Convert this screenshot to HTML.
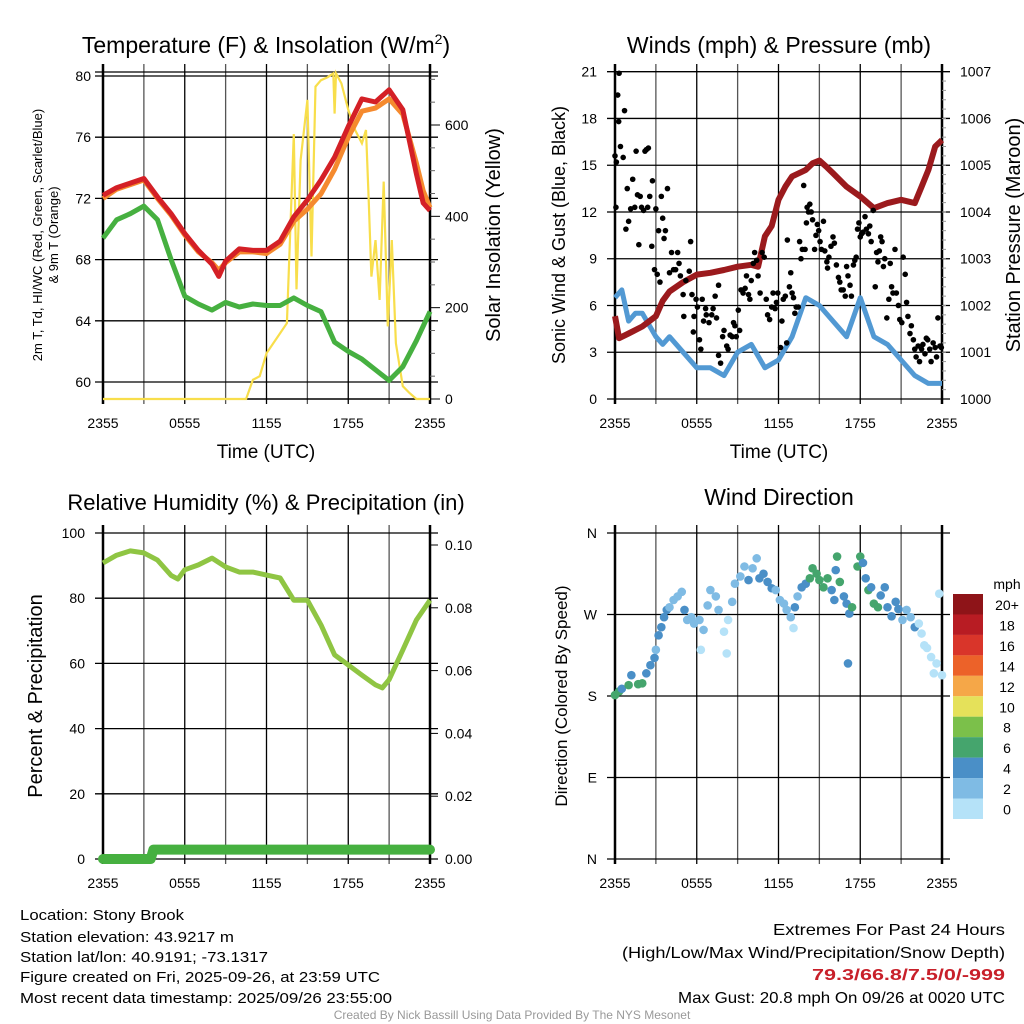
<!DOCTYPE html>
<html><head><meta charset="utf-8"><style>
html,body{margin:0;padding:0;background:#fff;}
svg{display:block;font-family:"Liberation Sans",sans-serif;}
</style></head><body>
<svg id="fig" width="1024" height="1024" viewBox="0 0 1024 1024" xmlns="http://www.w3.org/2000/svg">
<g id="tl"></g>
<g id="tr"></g>
<g id="bl"></g>
<g id="br"></g>
<g font-size="15" fill="#000">
<text x="20" y="920" textLength="164" lengthAdjust="spacingAndGlyphs">Location: Stony Brook</text>
<text x="20" y="942" textLength="214" lengthAdjust="spacingAndGlyphs">Station elevation: 43.9217 m</text>
<text x="20" y="962" textLength="248" lengthAdjust="spacingAndGlyphs">Station lat/lon: 40.9191; -73.1317</text>
<text x="20" y="982" textLength="360" lengthAdjust="spacingAndGlyphs">Figure created on Fri, 2025-09-26, at 23:59 UTC</text>
<text x="20" y="1003" textLength="372" lengthAdjust="spacingAndGlyphs">Most recent data timestamp: 2025/09/26 23:55:00</text>
<text x="1005" y="935" text-anchor="end" font-size="16" textLength="232" lengthAdjust="spacingAndGlyphs">Extremes For Past 24 Hours</text>
<text x="1005" y="958" text-anchor="end" font-size="16" textLength="383" lengthAdjust="spacingAndGlyphs">(High/Low/Max Wind/Precipitation/Snow Depth)</text>
<text x="1005" y="980" text-anchor="end" font-size="16" font-weight="bold" fill="#c8202a" textLength="193" lengthAdjust="spacingAndGlyphs">79.3/66.8/7.5/0/-999</text>
<text x="1005" y="1003" text-anchor="end" font-size="16" textLength="327" lengthAdjust="spacingAndGlyphs">Max Gust: 20.8 mph On 09/26 at 0020 UTC</text>
<text x="512" y="1019" text-anchor="middle" font-size="12" fill="#999">Created By Nick Bassill Using Data Provided By The NYS Mesonet</text>
</g>
</svg>
<script>
// ---- data ----
const xTickLabels = ["2355","0555","1155","1755","2355"];
const tempHours = [0,1,2,3,4,5,6,7,8,8.5,9,10,11,12,13,14,15,16,17,18,19,20,21,22,23,23.5,24];
const tempRed = [72.2,72.7,73.0,73.3,72.1,71.0,69.7,68.6,67.7,66.9,67.9,68.7,68.6,68.6,69.2,70.8,71.9,73.2,74.7,76.7,78.5,78.3,79.1,77.8,73.6,71.7,71.2];
const tempOrange = [72.0,72.6,72.9,73.2,72.0,70.9,69.6,68.5,67.8,67.3,67.8,68.5,68.5,68.4,69.0,70.5,71.3,72.3,73.9,76.0,77.7,77.9,78.5,77.5,74.3,72.5,71.4];
const dewHours = [0,1,2,3,4,5,6,7,8,9,10,11,12,13,14,15,16,17,18,19,20,21,22,23,24];
const dewGreen = [69.4,70.6,71.0,71.5,70.6,68.0,65.6,65.1,64.7,65.2,64.9,65.1,65.0,65.0,65.5,65.0,64.6,62.6,62.0,61.5,60.8,60.1,61.0,62.7,64.6];
const solarHours = [0,10.5,11,11.5,12,12.5,13,13.5,14,14.2,14.5,15,15.3,15.6,16,16.5,16.9,17,17.1,17.5,18,18.5,19,19.3,19.5,19.7,20,20.3,20.6,20.9,21.2,21.5,22,22.5,23,24];
const solarVals = [0,0,42,50,100,122,144,166,580,240,523,655,312,684,698,705,713,625,713,691,633,589,560,589,436,268,348,217,476,159,348,122,28,13,0,0];
const windHours = [0,0.5,1,1.5,2,3,3.5,4,5,6,7,8,9,10,11,12,13,14,15,16,17,18,19,20,21,22,23,24];
const windVals = [6.5,7,5,5.5,5.5,4,3.5,4,3,2,2,1.5,3,3.5,2,2.5,4,6.5,6,5,4,6.5,4,3.5,2.5,1.5,1,1];
const presHours = [0,0.3,1,2,3,3.5,4,5,6,7,8,9,10,10.5,11,11.5,12,12.5,13,14,14.5,15,15.5,16,17,18,19,20,21,22,22.5,23,23.5,24];
const presVals = [1001.77,1001.3,1001.4,1001.55,1001.77,1002.1,1002.3,1002.5,1002.66,1002.7,1002.76,1002.83,1002.87,1002.83,1003.48,1003.7,1004.26,1004.54,1004.76,1004.9,1005.04,1005.1,1004.97,1004.83,1004.54,1004.33,1004.08,1004.19,1004.26,1004.19,1004.54,1004.9,1005.4,1005.54];
const gustHours = [0,0.07,0.1,0.2,0.3,0.27,0.4,0.6,0.7,0.8,0.9,1.0,1.15,1.3,1.45,1.55,1.65,1.75,1.85,1.95,2.1,2.2,2.3,2.4,2.45,2.55,2.7,2.75,2.9,3.0,3.1,3.2,3.3,3.4,3.5,3.6,3.7,3.85,4.0,4.15,4.3,4.45,4.6,4.7,4.8,5.0,5.05,5.2,5.45,5.55,5.65,5.75,5.8,5.95,6.05,6.2,6.3,6.4,6.5,6.65,6.7,6.9,7.1,7.2,7.35,7.45,7.6,7.6,7.75,7.9,8.0,8.2,8.3,8.45,8.6,8.7,8.8,8.9,9.05,9.15,9.25,9.4,9.55,9.65,9.8,9.9,10.0,10.15,10.25,10.4,10.5,10.65,10.8,10.95,11.1,11.2,11.35,11.5,11.6,11.75,11.85,11.95,12.15,12.25,12.35,12.5,12.6,12.65,12.8,12.9,13.0,13.1,13.2,13.3,13.45,13.55,13.65,13.75,13.85,13.95,14.05,14.1,14.2,14.3,14.4,14.5,14.65,14.75,14.85,14.95,15.05,15.15,15.3,15.4,15.55,15.6,15.7,15.85,16.0,16.1,16.25,16.4,16.5,16.6,16.75,16.9,17.0,17.1,17.25,17.35,17.5,17.6,17.7,17.8,17.9,18.0,18.1,18.2,18.35,18.45,18.6,18.7,18.8,18.95,19.1,19.2,19.3,19.4,19.5,19.6,19.7,19.8,19.95,20.1,20.2,20.3,20.4,20.55,20.65,20.8,20.9,21.05,21.15,21.3,21.4,21.5,21.65,21.75,21.9,22.0,22.1,22.25,22.35,22.5,22.6,22.75,22.85,22.95,23.1,23.2,23.35,23.5,23.6,23.7,23.85,23.95];
const gustVals = [15.6,12.3,15.2,19.5,20.9,17.8,16.2,15.5,18.5,10.9,13.5,11.4,12.2,14.1,12.3,15.9,13.1,9.9,13.0,12.3,12.1,15.9,16.0,12.3,16.1,13.0,9.8,14.0,8.3,12.2,8.0,10.8,7.5,13.0,11.6,10.3,10.8,13.5,8.1,9.4,8.3,8.3,9.4,8.7,7.9,6.7,5.3,7.6,8.2,10.1,6.7,4.3,5.3,6.4,5.9,3.8,3.2,6.4,5.0,5.8,5.4,4.9,5.4,5.8,6.6,5.2,7.3,2.8,2.3,4.0,4.4,3.4,3.2,4.1,4.0,4.9,4.7,4.0,5.7,4.4,7.0,6.8,7.1,7.9,6.7,6.4,7.6,8.7,9.4,8.9,7.9,6.8,9.4,9.1,6.4,5.4,5.1,5.9,6.8,5.8,6.2,6.8,3.3,5.0,6.4,6.6,3.6,10.2,7.2,8.1,6.8,6.5,5.5,5.9,5.9,10.1,9.0,9.6,13.7,9.6,11.3,12.3,12.0,12.5,12.0,11.5,9.6,10.5,11.2,10.8,10.1,9.6,11.4,9.5,8.8,8.4,9.1,9.8,10.4,10.0,8.6,7.8,7.5,7.0,7.0,6.6,8.5,7.9,7.3,6.6,8.6,8.9,9.1,10.9,11.3,10.4,10.6,10.7,11.7,10.9,10.6,11.1,10.1,12.1,7.2,9.4,8.8,9.5,10.4,10.1,8.5,9.0,5.2,6.4,8.7,7.2,6.8,9.6,6.8,6.0,5.1,4.9,9.1,8.0,6.2,5.3,4.2,4.7,3.8,3.2,2.7,3.4,2.4,3.2,3.5,2.9,3.9,3.8,3.2,2.4,3.6,3.3,2.7,5.2,3.4,3.3];
const rhHours = [0,1,2,3,4,5,5.5,6,7,8,9,10,11,12,13,14,15,16,17,18,19,20,20.5,21,22,23,24];
const rhVals = [90.8,93.2,94.5,93.9,91.7,87,85.9,88.7,90.2,92.3,89.6,88,88,87.1,86.2,79.4,79.4,71.8,62.6,59.5,56.4,53.4,52.5,55,64.1,73.3,79.4];
const precipHours = [0,3.5,3.7,24];
const precipVals = [0,0,0.003,0.003];
const dirHours = [0,0.3,0.5,1,1.2,1.7,2,2.3,2.6,2.9,3,3.2,3.4,3.6,3.8,4,4.3,4.6,4.9,5.1,5.3,5.6,5.8,6.2,6.5,6.3,6.8,7,7.4,7.6,8,8.2,8.3,8.6,8.8,9.2,9.5,9.8,10.1,10.4,10.6,10.9,11.2,11.5,11.8,12.1,12.4,12.6,12.9,13.1,13.2,13.4,13.7,14,14.3,14.5,14.8,15,15.3,15.6,15.9,16.1,16.2,16.3,16.5,16.8,17,17.2,17.4,17.1,17.8,18,18.2,18.4,18.6,18.8,19,19.3,19.5,19.8,20,20.3,20.6,20.8,21.1,21.4,21.7,22,22.3,22.5,22.7,22.9,23.2,23.4,23.6,23.8,24];
const dirDeg = [181,185,188,192,203,193,194,205,214,222,231,247,256,267,275,278,286,290,295,275,264,267,260,264,253,231,280,297,290,275,251,227,264,284,304,312,323,308,321,332,310,315,306,299,297,286,282,275,267,255,278,290,300,304,310,321,315,308,300,310,297,286,319,334,306,290,282,271,278,216,323,334,327,310,297,300,282,278,291,300,278,268,284,276,264,275,267,256,260,249,236,233,223,205,216,293,203];
const dirSpeed = [6,6,5,6,4,6,6,4,4,4,2,4,4,4,4,3,2,2,2,4,2,2,2,2,2,0,2,2,2,2,0,0,0,2,2,2,2,4,2,2,4,4,4,4,2,2,2,2,2,0,4,2,4,4,6,6,6,6,6,6,4,4,4,6,6,4,4,4,6,4,6,6,4,4,6,4,6,6,4,4,4,4,4,4,2,2,2,4,0,0,0,0,0,0,0,0,0];
const cbarLabels = ["20+","18","16","14","12","10","8","6","4","2","0"];
const cbarColors = ["#8e1418","#b81c23","#d9352a","#ec6229","#f5a748","#e5e15a","#7bc04a","#45a56d","#4a8fc7","#7fbbe4","#b5e2f8"];

const NS="http://www.w3.org/2000/svg";
function mk(parent,tag,attrs,text){const e=document.createElementNS(NS,tag);for(const k in attrs)e.setAttribute(k,attrs[k]);if(text!==undefined)e.textContent=text;parent.appendChild(e);return e;}
function lin(d0,d1,r0,r1){return v=>r0+(v-d0)*(r1-r0)/(d1-d0);}
function pathFrom(xs,ys,fx,fy){return xs.map((h,i)=>(i?"L":"M")+fx(h).toFixed(1)+","+fy(ys[i]).toFixed(1)).join("");}
function speedColor(s){const i=Math.min(10,Math.max(0,10-Math.floor(s/2)));return cbarColors[i];}

function frame(g,x0,x1,y0,y1,fx){
  for(let h=0;h<=24;h+=3){const gl=mk(g,"line",{x1:fx(h),x2:fx(h),y1:y0-8,y2:y1+5,stroke:(h%6==0)?"#000":"#555","stroke-width":(h==0||h==24)?2.5:1.3});
    }
  xTickLabels.forEach((t,i)=>{const tx=mk(g,"text",{x:fx(i*6),y:y1+29,"font-size":14,"text-anchor":"middle"},t);
    });
}
function hgrid(g,x0,x1,y){const l=mk(g,"line",{x1:x0-8,x2:x1+8,y1:y,y2:y,stroke:"#000","stroke-width":1.3});
  }
function lbl(g,x,y,t,anchor,size,name){const e=mk(g,"text",{x:x,y:y,"text-anchor":anchor,"font-size":size||15},t);
  return e;}
function vlbl(g,x,y,t,size,name){const e=mk(g,"text",{x:x,y:y,"text-anchor":"middle","font-size":size,transform:"rotate(-90 "+x+" "+y+")"},t);
  return e;}

// ---- Top-left: temperature ----
(function(){
  const g=document.getElementById('tl');const X0=103,X1=430,Y0=72,Y1=399;
  const fx=lin(0,24,X0,X1), fy=lin(60,80,382,76), fs=lin(0,600,399,125);
  frame(g,X0,X1,Y0,Y1,fx);
  hgrid(g,X0,X1,Y0);
  [60,64,68,72,76,80].forEach(v=>{hgrid(g,X0,X1,fy(v));lbl(g,X0-12,fy(v)+5,String(v),"end",14,"y-tick-label");});
  [0,200,400,600].forEach(v=>{lbl(g,445,fs(v)+5,String(v),"start",14,"y2-tick-label");mk(g,"line",{x1:X1,x2:X1+10,y1:fs(v),y2:fs(v),stroke:"#000"});});
  for(let v=50;v<=700;v+=50){if(v%200)mk(g,"line",{x1:X1,x2:X1+5,y1:fs(v),y2:fs(v),stroke:"#666"});}
  mk(g,"line",{x1:X0,x2:X1,y1:Y1,y2:Y1,stroke:"#000","stroke-width":1.5});
  const sol=mk(g,"path",{d:pathFrom(solarHours,solarVals,fx,fs),fill:"none",stroke:"#f8de4b","stroke-width":2.2});
  
  const dp=mk(g,"path",{d:pathFrom(dewHours,dewGreen,fx,fy),fill:"none",stroke:"#46b040","stroke-width":5,"stroke-linejoin":"round"});
  
  const or=mk(g,"path",{d:pathFrom(tempHours,tempOrange,fx,fy),fill:"none",stroke:"#f58a2e","stroke-width":5,"stroke-linejoin":"round"});
  
  const rd=mk(g,"path",{d:pathFrom(tempHours,tempRed,fx,fy),fill:"none",stroke:"#d42026","stroke-width":5,"stroke-linejoin":"round"});
  
  lbl(g,266,53,"Temperature (F) & Insolation (W/m","middle",23,"chart-title").innerHTML='Temperature (F) &amp; Insolation (W/m<tspan dy="-9" font-size="14">2</tspan><tspan dy="9">)</tspan>';
  lbl(g,266,458,"Time (UTC)","middle",19,"x-axis-title");
  vlbl(g,42,235,"2m T, Td, HI/WC (Red, Green, Scarlet/Blue)",13,"y-axis-title");
  vlbl(g,58,235,"& 9m T (Orange)",13,"y-axis-title-line2");
  vlbl(g,500,235,"Solar Insolation (Yellow)",20,"y2-axis-title");
})();

// ---- Top-right: winds ----
(function(){
  const g=document.getElementById('tr');const X0=615,X1=942,Y0=72,Y1=399;
  const fx=lin(0,24,X0,X1), fy=lin(0,21,399,71.7), fp=lin(1000,1007,399,71.7);
  frame(g,X0,X1,Y0,Y1,fx);
  [0,3,6,9,12,15,18,21].forEach(v=>{hgrid(g,X0,X1,fy(v));lbl(g,X0-18,fy(v)+5,String(v),"end",14,"y-tick-label");});
  for(let v=1000;v<=1007;v++){lbl(g,960,fp(v)+5,String(v),"start",14,"y2-tick-label");}
  for(let v=1000.2;v<1007;v+=0.2){mk(g,"line",{x1:X1,x2:X1+4,y1:fp(v),y2:fp(v),stroke:"#999"});}
  const bl=mk(g,"path",{d:pathFrom(windHours,windVals,fx,fy),fill:"none",stroke:"#5299d3","stroke-width":5,"stroke-linejoin":"round"});
  
  const pr=mk(g,"path",{d:pathFrom(presHours,presVals,fx,fp),fill:"none",stroke:"#9b1a1d","stroke-width":6,"stroke-linejoin":"round"});
  
  gustHours.forEach((h,i)=>{const c=mk(g,"circle",{cx:fx(h),cy:fy(gustVals[i]),r:2.8,fill:"#000"});
    });
  lbl(g,779,53,"Winds (mph) & Pressure (mb)","middle",23,"chart-title");
  lbl(g,779,458,"Time (UTC)","middle",19,"x-axis-title");
  vlbl(g,565,235,"Sonic Wind & Gust (Blue, Black)",18,"y-axis-title");
  vlbl(g,1020,235,"Station Pressure (Maroon)",20,"y2-axis-title");
})();

// ---- Bottom-left: RH ----
(function(){
  const g=document.getElementById('bl');const X0=103,X1=430,Y0=533,Y1=859;
  const fx=lin(0,24,X0,X1), fy=lin(0,100,859,533), fp=lin(0,0.1,859,545);
  frame(g,X0,X1,Y0,Y1,fx);
  [0,20,40,60,80,100].forEach(v=>{hgrid(g,X0,X1,fy(v));lbl(g,X0-18,fy(v)+5,String(v),"end",14,"y-tick-label");});
  [0,0.02,0.04,0.06,0.08,0.1].forEach(v=>{lbl(g,445,fp(v)+5,v.toFixed(2),"start",14,"y2-tick-label");mk(g,"line",{x1:X1,x2:X1+8,y1:fp(v),y2:fp(v),stroke:"#000"});});
  const rh=mk(g,"path",{d:pathFrom(rhHours,rhVals,fx,fy),fill:"none",stroke:"#8fc543","stroke-width":5,"stroke-linejoin":"round"});
  
  const pc=mk(g,"path",{d:pathFrom(precipHours,precipVals,fx,fp),fill:"none",stroke:"#46b040","stroke-width":10,"stroke-linecap":"round","stroke-linejoin":"round"});
  
  lbl(g,266,510,"Relative Humidity (%) & Precipitation (in)","middle",22,"chart-title");
  vlbl(g,42,696,"Percent & Precipitation",20,"y-axis-title");
})();

// ---- Bottom-right: wind direction ----
(function(){
  const g=document.getElementById('br');const X0=615,X1=942,Y0=533,Y1=859;
  const fx=lin(0,24,X0,X1), fy=lin(0,360,859,533);
  frame(g,X0,X1,Y0,Y1,fx);
  ["N","E","S","W","N"].forEach((t,i)=>{hgrid(g,X0,X1,fy(i*90));lbl(g,X0-18,fy(i*90)+5,t,"end",14,"y-tick-label");});
  dirHours.forEach((h,i)=>{const c=mk(g,"circle",{cx:fx(h),cy:fy(dirDeg[i]),r:4.3,fill:speedColor(dirSpeed[i])});
    });
  lbl(g,779,505,"Wind Direction","middle",23,"chart-title");
  vlbl(g,567,696,"Direction (Colored By Speed)",17,"y-axis-title");
  lbl(g,1007,589,"mph","middle",14,"colorbar-title");
  cbarColors.forEach((c,i)=>{const r=mk(g,"rect",{x:953,y:594+i*20.45,width:30,height:20.5,fill:c});
    
    lbl(g,1007,594+i*20.45+16,cbarLabels[i],"middle",14,"colorbar-label");});
})();
</script>
</body></html>
